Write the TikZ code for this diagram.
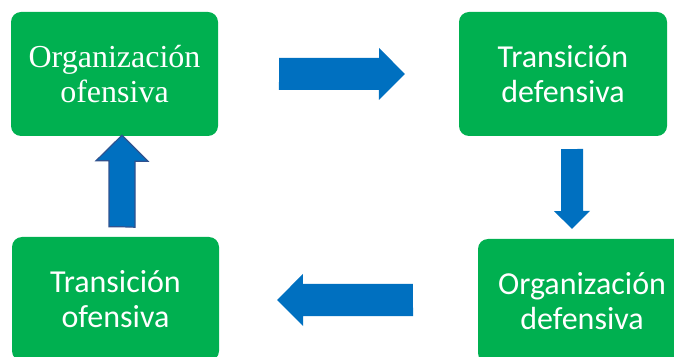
\documentclass[tikz,border=0pt]{standalone}
\usepackage{fontspec}
\setmainfont{Carlito}
\newfontfamily\timesfont{Liberation Serif}
\usetikzlibrary{calc}

\newlength{\du}
\setlength{\du}{1pt}

\definecolor{cajaverde}{RGB}{0,176,80}
\definecolor{flechaazul}{RGB}{0,112,192}
\definecolor{bordeazul}{RGB}{47,82,143}

\tikzset{
  caja/.style={fill=cajaverde, draw=none, rounded corners=10\du,
    text=white, align=center, inner sep=0pt,
    minimum height=124\du,
    font=\fontsize{32}{35}\selectfont},
  flecha/.style={fill=flechaazul, draw=none},
  flechaborde/.style={fill=flechaazul, draw=bordeazul, line width=1.2\du, line join=miter}
}

\begin{document}
\begin{tikzpicture}
\useasboundingbox (0\du,0\du) rectangle (674\du,356\du);
% cajas
\node[caja, minimum width=207\du] (orgof) at (114.5\du,282\du){\timesfont Organización\\\timesfont ofensiva};
\node[caja, minimum width=208\du] (trandef) at (563\du,282\du){Transición\\defensiva};
\node[caja, minimum width=207\du] (tranof) at (115.5\du,57\du){Transición\\ofensiva};
\node[caja, minimum width=208\du] (orgdef) at (582\du,55\du){Organización\\defensiva};
% flechas
\coordinate (r1s) at ([xshift=61\du]orgof.east);
\coordinate (r1e) at ([xshift=-54\du]trandef.west);
\fill[flecha] (r1s) -- ++(0\du,16\du) -- ++(100\du,0\du) -- ++(0\du,10\du) -- (r1e)
  -- ++(-26\du,-26\du) -- ++(0\du,10\du) -- ++(-100\du,0\du) -- cycle;
\coordinate (r2s) at ([xshift=9\du,yshift=-13\du]trandef.south);
\coordinate (r2e) at ([xshift=-10\du,yshift=10\du]orgdef.north);
\fill[flecha] (r2s) -- ++(-11\du,0\du) -- ++(0\du,-62\du) -- ++(-7\du,0\du) -- (r2e)
  -- ++(18\du,18\du) -- ++(-7\du,0\du) -- ++(0\du,62\du) -- cycle;
\coordinate (r3s) at ([xshift=-65\du,yshift=1\du]orgdef.west);
\coordinate (r3e) at ([xshift=58\du,yshift=-1\du]tranof.east);
\fill[flecha] (r3s) -- ++(0\du,16\du) -- ++(-110\du,0\du) -- ++(0\du,10\du) -- (r3e)
  -- ++(26\du,-26\du) -- ++(0\du,10\du) -- ++(110\du,0\du) -- cycle;
\coordinate (r4s) at ([xshift=6.5\du,yshift=10\du]tranof.north);
\coordinate (r4e) at ([xshift=7.5\du,yshift=1\du]orgof.south);
\filldraw[flechaborde] (r4s) -- ++(-13\du,0\du) -- ++(0\du,66\du) -- ++(-13\du,0\du) -- (r4e)
  -- ++(26\du,-26\du) -- ++(-13\du,0\du) -- ++(0\du,-66\du) -- cycle;
\end{tikzpicture}
\end{document}
